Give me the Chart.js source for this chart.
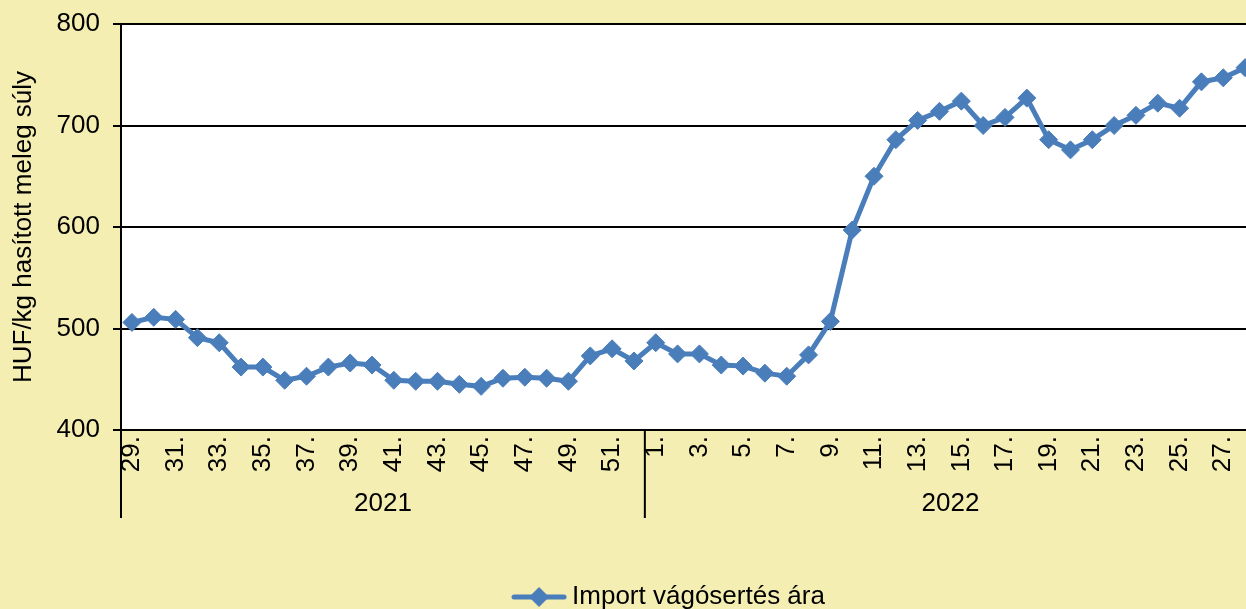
<!DOCTYPE html>
<html>
<head>
<meta charset="utf-8">
<script src="https://cdn.jsdelivr.net/npm/chart.js@4/dist/chart.umd.min.js"></script>
<style>
  html, body { margin: 0; padding: 0; background: #F5EEB2; overflow: hidden; }
  #wrap { position: relative; width: 1256px; height: 609px; }
  canvas { display: block; }
</style>
</head>
<body>
<div id="wrap"><canvas id="c" width="1256" height="609"></canvas></div>
<script>
// ---- data ----
const weeks2021 = ['29.','30.','31.','32.','33.','34.','35.','36.','37.','38.','39.','40.',
                   '41.','42.','43.','44.','45.','46.','47.','48.','49.','50.','51.','52.'];
const weeks2022 = ['1.','2.','3.','4.','5.','6.','7.','8.','9.','10.','11.','12.','13.','14.',
                   '15.','16.','17.','18.','19.','20.','21.','22.','23.','24.','25.','26.','27.','28.'];
const yearLabels = ['2021', '2022'];
const prices2021 = [506, 511, 509, 491, 486, 462, 462, 449, 453, 462, 466, 464,
                    449, 448, 448, 445, 443, 451, 452, 451, 448, 473, 480, 468];
const prices2022 = [486, 475, 475, 464, 463, 456, 453, 474, 507, 597, 650, 686, 705, 714,
                    724, 700, 708, 727, 686, 676, 686, 700, 710, 722, 717, 743, 747, 757];
const seriesName = 'Import vágósertés ára';
const yTitle = 'HUF/kg hasított meleg súly';
const yMin = 400, yMax = 800, yStep = 100;

// ---- derived ----
const categories = weeks2021.concat(weeks2022);
const values = prices2021.concat(prices2022);
const groups = [
  { label: yearLabels[0], count: weeks2021.length },
  { label: yearLabels[1], count: weeks2022.length }
];

const FONT = "'Liberation Sans', Arial, sans-serif";
const FS = 26;
const BLUE = '#4A7EBB';
const LEG_DX = 44, LEG_DY = 11;

// legend marker: line with diamond
const legendMarker = document.createElement('canvas');
legendMarker.width = 56; legendMarker.height = 22;
(function () {
  const g = legendMarker.getContext('2d');
  g.strokeStyle = BLUE; g.lineWidth = 5; g.lineCap = 'round';
  g.beginPath(); g.moveTo(3, 11); g.lineTo(53, 11); g.stroke();
  g.fillStyle = BLUE;
  g.beginPath(); g.moveTo(28, 1); g.lineTo(38, 11); g.lineTo(28, 21); g.lineTo(18, 11); g.closePath(); g.fill();
})();

const decor = {
  id: 'decor',
  beforeDraw(chart) {
    const { ctx, chartArea: a } = chart;
    ctx.save();
    ctx.fillStyle = '#ffffff';
    ctx.fillRect(a.left, a.top, a.right - a.left, a.bottom - a.top);
    ctx.restore();
  },
  afterLayout(chart) {
    const lg = chart.legend;
    if (!lg) return;
    lg.left += LEG_DX; lg.right += LEG_DX;
    lg.top += LEG_DY; lg.bottom += LEG_DY;
  },
  afterDraw(chart) {
    const { ctx, chartArea: a } = chart;
    const xs = chart.scales.x;
    const step = xs.getPixelForValue(1) - xs.getPixelForValue(0);
    const yTop = a.bottom, yBot = a.bottom + 88;
    ctx.save();
    ctx.strokeStyle = '#000'; ctx.lineWidth = 2;
    ctx.fillStyle = '#000';
    ctx.font = FS + 'px ' + FONT;
    ctx.textAlign = 'center'; ctx.textBaseline = 'middle';
    let start = 0;
    groups.forEach((g) => {
      const x0 = xs.getPixelForValue(start) - step / 2;
      const x1 = xs.getPixelForValue(start + g.count - 1) + step / 2;
      ctx.beginPath(); ctx.moveTo(x0, yTop); ctx.lineTo(x0, yBot); ctx.stroke();
      ctx.fillText(g.label, (x0 + x1) / 2, a.bottom + 74);
      start += g.count;
    });
    ctx.restore();
  }
};

new Chart(document.getElementById('c'), {
  type: 'line',
  data: {
    labels: categories,
    datasets: [{
      label: seriesName,
      data: values,
      borderColor: BLUE,
      backgroundColor: BLUE,
      borderWidth: 5,
      tension: 0,
      pointStyle: 'rectRot',
      pointRadius: 9,
      pointBorderWidth: 1,
      pointBackgroundColor: BLUE,
      pointBorderColor: BLUE
    }]
  },
  options: {
    responsive: false,
    animation: false,
    layout: { autoPadding: false, padding: { top: 24, right: 0, bottom: 0, left: 0 } },
    plugins: {
      tooltip: { enabled: false },
      legend: {
        position: 'bottom',
        labels: {
          color: '#000',
          font: { family: FONT, size: FS },
          usePointStyle: true,
          pointStyleWidth: 40,
          padding: 10,
          generateLabels(chart) {
            const items = Chart.defaults.plugins.legend.labels.generateLabels(chart);
            items.forEach((it) => { it.pointStyle = legendMarker; });
            return items;
          }
        }
      }
    },
    scales: {
      x: {
        type: 'category',
        offset: true,
        grid: { display: false, drawTicks: false },
        border: { display: true, color: '#000', width: 2 },
        ticks: {
          autoSkip: false,
          minRotation: 90,
          maxRotation: 90,
          padding: 6,
          color: '#000',
          font: { family: FONT, size: FS },
          callback(v) {
            const lab = this.getLabelForValue(v);
            return parseInt(lab, 10) % 2 === 1 ? lab : '';
          }
        },
        afterFit(s) { s.height = 133; s.paddingLeft = 0; s.paddingRight = 0; }
      },
      y: {
        min: yMin, max: yMax,
        grid: { color: '#000', lineWidth: 2, tickLength: 8, drawTicks: true },
        border: { display: true, color: '#000', width: 2 },
        ticks: { stepSize: yStep, padding: 13, color: '#000', font: { family: FONT, size: FS } },
        title: { display: true, text: yTitle, color: '#000', font: { family: FONT, size: FS }, padding: { top: 8, bottom: 0 } },
        afterFit(s) { s.width = 121; s.paddingTop = 0; s.paddingBottom = 0; }
      }
    }
  },
  plugins: [decor]
});
</script>
</body>
</html>
